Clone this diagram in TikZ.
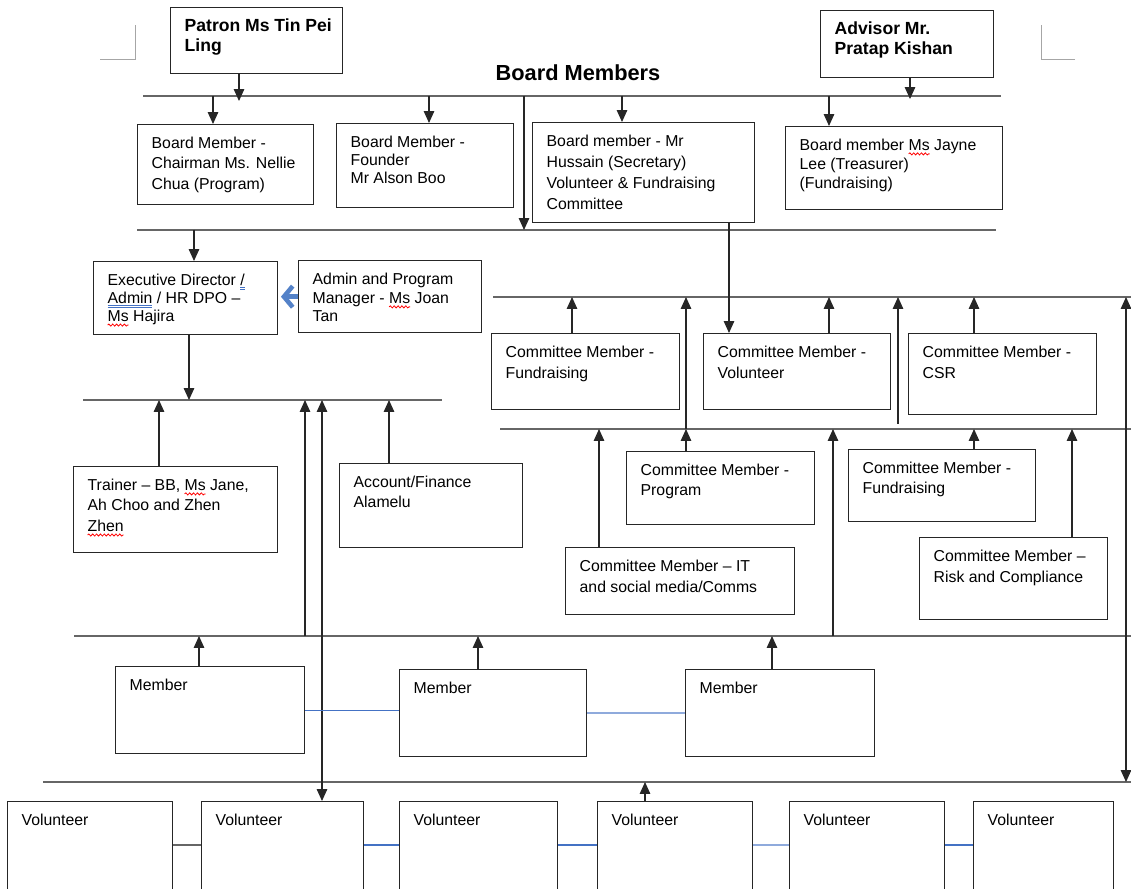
\documentclass[tikz,border=0pt]{standalone}
\usepackage{fontspec}
\setmainfont{Liberation Sans}
\usetikzlibrary{arrows.meta}
\usetikzlibrary{decorations.pathmorphing}

\definecolor{wordblue}{RGB}{68,114,196}
\definecolor{lightblue}{RGB}{143,170,220}
\definecolor{arrowblue}{RGB}{84,130,200}

\newlength{\pu}
\setlength{\pu}{0.02cm}

% spell check marks under a word
\newsavebox{\wavebox}
\newcommand{\redwave}[1]{\sbox{\wavebox}{#1}\leavevmode\rlap{\tikz[overlay]\draw[red, line width=0.45pt, decorate, decoration={snake, amplitude=0.6pt, segment length=2.2pt}] (0pt,-2.2pt) -- (\wd\wavebox,-2.2pt);}\usebox{\wavebox}}
\newcommand{\bluedbl}[1]{\sbox{\wavebox}{#1}\leavevmode\rlap{\tikz[overlay]\draw[wordblue, line width=0.45pt] (0pt,-1.4pt) -- (\wd\wavebox,-1.4pt) (0pt,-2.7pt) -- (\wd\wavebox,-2.7pt);}\usebox{\wavebox}}

\newcommand{\boxtxt}[4][11.5pt]{\parbox[b][#3\pu][t]{#2\pu}{\raggedright\leftskip=14\pu\baselineskip=#1\relax\rule{0pt}{13.3pt}#4\par}}

\begin{document}
\begin{tikzpicture}[x=0.02cm, y=-0.02cm,
	box/.style={draw=black!85, line width=0.75pt, anchor=north west, inner sep=0pt, font=\fontsize{9}{11.5}\selectfont},
	boldbox/.style={box, font=\bfseries\fontsize{10}{11.5}\selectfont},
	bus/.style={draw=black!60, line width=1pt},
	arr/.style={draw=black!85, line width=0.6pt, -{Triangle[length=6.8pt, width=6pt]}},
	darr/.style={draw=black!85, line width=0.6pt, {Triangle[length=6.8pt, width=6pt]}-{Triangle[length=6.8pt, width=6pt]}},
	link/.style={draw=wordblue, line width=0.7pt},
	crop/.style={draw=black!35, line width=0.5pt}]
	\useasboundingbox (0,0) rectangle (1131,888);
	\clip (0,0) rectangle (1131,888);
	
	\draw[crop] (100,59) -- (135,59) -- (135,25);
	\draw[crop] (1075,59) -- (1041,59) -- (1041,25);
	
	% patron, advisor, board
	\node[boldbox] (patron) at (170,7) {\boxtxt{172}{66}{Patron Ms Tin Pei\\Ling}};
	\node[boldbox] (advisor) at (820,10) {\boxtxt{173}{67}{\rule{0pt}{2pt}Advisor Mr.\\Pratap Kishan}};
	\node[font=\bfseries\fontsize{12.4}{14}\selectfont] (title) at (578,73) {Board Members};
	
	\node[box] (chair) at (137,124) {\boxtxt[11.7pt]{176}{80}{Board Member -\\Chairman Ms. Nellie\\Chua (Program)}};
	\node[box] (founder) at (336,123) {\boxtxt[10.3pt]{177}{84}{Board Member -\\Founder\\Mr Alson Boo}};
	\node[box] (sec) at (532,122) {\boxtxt[12pt]{222}{100}{Board member - Mr\\Hussain (Secretary)\\Volunteer \& Fundraising\\Committee}};
	\node[box] (treas) at (785,126) {\boxtxt[11pt]{217}{83}{Board member \redwave{Ms} Jayne\\Lee (Treasurer)\\(Fundraising)}};
	
	% office
	\node[box] (ed) at (93,261) {\boxtxt[10.3pt]{184}{73}{Executive Director \bluedbl{/}\\\bluedbl{Admin} / HR DPO --\\\redwave{Ms} Hajira}};
	\node[box] (admin) at (298,260) {\boxtxt[10.8pt]{183}{72}{Admin and Program\\Manager - \redwave{Ms} Joan\\Tan}};
	\node[box] (trainer) at (73,466) {\boxtxt[11.7pt]{204}{86}{Trainer -- BB, \redwave{Ms} Jane,\\Ah Choo and Zhen\\\redwave{Zhen}}};
	\node[box] (account) at (339,463) {\boxtxt{183}{84}{Account/Finance\\Alamelu}};
	
	% committee
	\node[box] (cfund) at (491,333) {\boxtxt[12pt]{188}{76}{Committee Member -\\Fundraising}};
	\node[box] (cvol) at (703,333) {\boxtxt[12pt]{187}{76}{Committee Member -\\Volunteer}};
	\node[box] (ccsr) at (908,333) {\boxtxt[12pt]{188}{81}{Committee Member -\\CSR}};
	\node[box] (cprog) at (626,451) {\boxtxt{188}{73}{Committee Member -\\Program}};
	\node[box] (cfund2) at (848,449) {\boxtxt{187}{72}{Committee Member -\\Fundraising}};
	\node[box] (cit) at (565,547) {\boxtxt[12pt]{229}{67}{Committee Member -- IT\\and social media/Comms}};
	\node[box] (crisk) at (919,537) {\boxtxt[12pt]{188}{82}{Committee Member --\\Risk and Compliance}};
	
	% members, volunteers
	\node[box] (mem1) at (115,666) {\boxtxt{189}{87}{Member}};
	\node[box] (mem2) at (399,669) {\boxtxt{187}{87}{Member}};
	\node[box] (mem3) at (685,669) {\boxtxt{189}{87}{Member}};
	\node[box] (vol1) at (7,801) {\boxtxt{165}{100}{Volunteer}};
	\node[box] (vol2) at (201,801) {\boxtxt{162}{100}{Volunteer}};
	\node[box] (vol3) at (399,801) {\boxtxt{158}{100}{Volunteer}};
	\node[box] (vol4) at (597,801) {\boxtxt{155}{100}{Volunteer}};
	\node[box] (vol5) at (789,801) {\boxtxt{155}{100}{Volunteer}};
	\node[box] (vol6) at (973,801) {\boxtxt{140}{100}{Volunteer}};
	
	% bus lines
	\coordinate (b1w) at (143,96); \coordinate (b1e) at (1001,96);
	\coordinate (b2w) at (137,230); \coordinate (b2e) at (996,230);
	\coordinate (b3w) at (83,400); \coordinate (b3e) at (442,400);
	\coordinate (b4w) at (493,297); \coordinate (b4e) at (1131,297);
	\coordinate (b5w) at (500,429); \coordinate (b5e) at (1131,429);
	\coordinate (b6w) at (74,636); \coordinate (b6e) at (1131,636);
	\coordinate (b7w) at (43,782); \coordinate (b7e) at (1131,782);
	\draw[bus] (b1w) -- (b1e);
	\draw[bus] (b2w) -- (b2e);
	\draw[bus] (b3w) -- (b3e);
	\draw[bus] (b4w) -- (b4e);
	\draw[bus] (b5w) -- (b5e);
	\draw[bus] (b6w) -- (b6e);
	\draw[bus] (b7w) -- (b7e);
	
	\coordinate (b1pa) at (239,96);
	\coordinate (b1ad) at (910,96);
	\coordinate (b1ch) at (213,96);
	\coordinate (b1fo) at (429,96);
	\coordinate (b1se) at (622,96);
	\coordinate (b1tr) at (829,96);
	\coordinate (b1dn) at (524,96);
	\draw[arr] (patron.south -| b1pa) -- ([yshift=-5\pu]b1pa);
	\draw[arr] (advisor.south -| b1ad) -- ([yshift=-3\pu]b1ad);
	\draw[arr] (b1ch) -- (chair.north -| b1ch);
	\draw[arr] (b1fo) -- (founder.north -| b1fo);
	\draw[arr] (b1se) -- (sec.north -| b1se);
	\draw[arr] (b1tr) -- (treas.north -| b1tr);
	\draw[arr] (b1dn) -- (b1dn |- b2w);
	
	\coordinate (b2ed) at (194,230);
	\coordinate (b2se) at (729,230);
	\draw[arr] (b2ed) -- (ed.north -| b2ed);
	\draw[arr] (sec.south -| b2se) -- (cvol.north -| b2se);
	\draw[draw=arrowblue, line width=2.6pt, shorten >=1.5pt, -{Straight Barb[length=5pt, width=12pt]}] (admin.west) -- (admin.west -| ed.east);
	
	\coordinate (b3ed) at (189,400);
	\coordinate (b3tr) at (159,400);
	\coordinate (b3up) at (305,400);
	\coordinate (b3vo) at (322,400);
	\coordinate (b3ac) at (389,400);
	\draw[arr] (ed.south -| b3ed) -- (b3ed);
	\draw[arr] (trainer.north -| b3tr) -- (b3tr);
	\draw[arr] (b3up |- b6w) -- (b3up);
	\draw[darr] (vol2.north -| b3vo) -- (b3vo);
	\draw[arr] (account.north -| b3ac) -- (b3ac);
	
	\coordinate (b4cf) at (572,297);
	\coordinate (b4pr) at (686,297);
	\coordinate (b4cv) at (829,297);
	\coordinate (b4gp) at (898,297);
	\coordinate (b4cs) at (974,297);
	\coordinate (b4rt) at (1126,297);
	\draw[arr] (cfund.north -| b4cf) -- (b4cf);
	\draw[arr] (b4pr |- b5w) -- (b4pr);
	\draw[arr] (cvol.north -| b4cv) -- (b4cv);
	\draw[arr, shorten <=3pt] (b4gp |- b5w) -- (b4gp);
	\draw[arr] (ccsr.north -| b4cs) -- (b4cs);
	\draw[darr] (b4rt |- b7w) -- (b4rt);
	
	\coordinate (b5it) at (599,429);
	\coordinate (b5pr) at (686,429);
	\coordinate (b5up) at (833,429);
	\coordinate (b5cf) at (974,429);
	\coordinate (b5ri) at (1072,429);
	\draw[arr] (cit.north -| b5it) -- (b5it);
	\draw[arr] (cprog.north -| b5pr) -- (b5pr);
	\draw[arr] (b5up |- b6w) -- (b5up);
	\draw[arr] (cfund2.north -| b5cf) -- (b5cf);
	\draw[arr] (crisk.north -| b5ri) -- (b5ri);
	
	\coordinate (b6m1) at (199,636);
	\coordinate (b6m2) at (478,636);
	\coordinate (b6m3) at (772,636);
	\coordinate (b7v4) at (645,782);
	\draw[arr] (mem1.north -| b6m1) -- (b6m1);
	\draw[arr] (mem2.north -| b6m2) -- (b6m2);
	\draw[arr] (mem3.north -| b6m3) -- (b6m3);
	\draw[arr] (vol4.north -| b7v4) -- (b7v4);
	
	% side links
	\draw[link] (mem1.east) -- (mem1.east -| mem2.west);
	\draw[link, draw=lightblue, line width=1pt] (mem2.east) -- (mem2.east -| mem3.west);
	\coordinate (vlk) at (0,845);
	\draw[link, draw=black!60] (vol1.east |- vlk) -- (vol2.west |- vlk);
	\draw[link] (vol2.east |- vlk) -- (vol3.west |- vlk);
	\draw[link] (vol3.east |- vlk) -- (vol4.west |- vlk);
	\draw[link, draw=lightblue, line width=1pt] (vol4.east |- vlk) -- (vol5.west |- vlk);
	\draw[link] (vol5.east |- vlk) -- (vol6.west |- vlk);
\end{tikzpicture}
\end{document}
